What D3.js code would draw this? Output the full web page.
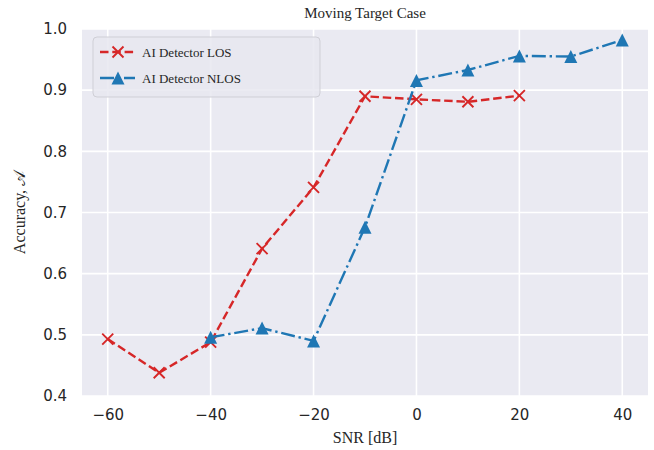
<!DOCTYPE html>
<html>
<head>
<meta charset="utf-8">
<script src="https://cdn.jsdelivr.net/npm/d3@7"></script>
<style>
  html, body { margin: 0; padding: 0; background: #ffffff; }
  svg { display: block; }
</style>
</head>
<body>
<div id="chart"></div>
<script>
// SNR sweep (dB) and detector accuracy for each propagation case
const snrLOS = [-60, -50, -40, -30, -20, -10, 0, 10, 20];
const accLOS = [0.493, 0.438, 0.488, 0.641, 0.741, 0.890, 0.885, 0.881, 0.891];
const snrNLOS = [-40, -30, -20, -10, 0, 10, 20, 30, 40];
const accNLOS = [0.496, 0.511, 0.490, 0.676, 0.916, 0.933, 0.956, 0.955, 0.982];
const xTicks = [-60, -40, -20, 0, 20, 40];
const yTicks = [0.4, 0.5, 0.6, 0.7, 0.8, 0.9, 1.0];
const seriesNames = ["AI Detector LOS", "AI Detector NLOS"];

const W = 654, H = 450;
const margin = { left: 82, right: 6, top: 29, bottom: 54 };
const pw = W - margin.left - margin.right;
const ph = H - margin.top - margin.bottom;

const svg = d3.select("#chart").append("svg")
  .attr("width", W).attr("height", H);

const x = d3.scaleLinear().domain([-65, 45]).range([margin.left, margin.left + pw]);
const y = d3.scaleLinear().domain([0.4, 1.0]).range([margin.top + ph, margin.top]);

const serif = "'Liberation Serif', 'DejaVu Serif', serif";
const sans = "'DejaVu Sans', sans-serif";
const textColor = "#262626";

// plot background
svg.append("rect")
  .attr("x", margin.left).attr("y", margin.top)
  .attr("width", pw).attr("height", ph)
  .attr("fill", "#eaeaf2");

// grid lines
const grid = svg.append("g");
grid.selectAll(".gx").data(xTicks).enter().append("line")
  .attr("x1", d => x(d)).attr("x2", d => x(d))
  .attr("y1", margin.top).attr("y2", margin.top + ph)
  .attr("stroke", "#ffffff").attr("stroke-width", 1.6);
grid.selectAll(".gy").data(yTicks).enter().append("line")
  .attr("x1", margin.left).attr("x2", margin.left + pw)
  .attr("y1", d => y(d)).attr("y2", d => y(d))
  .attr("stroke", "#ffffff").attr("stroke-width", 1.6);

// axes (labels only, no spines or tick marks)
const xAxis = svg.append("g")
  .attr("transform", `translate(0,${margin.top + ph})`)
  .call(d3.axisBottom(x).tickValues(xTicks).tickSize(0).tickPadding(13)
    .tickFormat(d => d < 0 ? "\u2212" + Math.abs(d) : String(d)));
xAxis.select(".domain").remove();
xAxis.selectAll("text").attr("font-family", sans).attr("font-size", 15)
  .attr("fill", textColor);

const yAxis = svg.append("g")
  .attr("transform", `translate(${margin.left},0)`)
  .call(d3.axisLeft(y).tickValues(yTicks).tickSize(0).tickPadding(15)
    .tickFormat(d3.format(".1f")));
yAxis.select(".domain").remove();
yAxis.selectAll("text").attr("font-family", sans).attr("font-size", 15)
  .attr("fill", textColor);

// title and axis labels
svg.append("text")
  .attr("x", margin.left + pw / 2).attr("y", 18)
  .attr("text-anchor", "middle")
  .attr("font-family", serif).attr("font-size", 15).attr("fill", textColor)
  .text("Moving Target Case");

svg.append("text")
  .attr("x", margin.left + pw / 2).attr("y", 443)
  .attr("text-anchor", "middle")
  .attr("font-family", serif).attr("font-size", 16).attr("fill", textColor)
  .text("SNR [dB]");

const yl = svg.append("text")
  .attr("transform", `translate(25,${margin.top + ph / 2}) rotate(-90)`)
  .attr("text-anchor", "middle")
  .attr("font-family", serif).attr("font-size", 16).attr("fill", textColor);
yl.append("tspan").text("Accuracy, ");
yl.append("tspan").attr("font-family", "'DejaVu Sans', 'DejaVu Serif', serif").text("\u{1D49C}");

const line = d3.line().x(d => x(d[0])).y(d => y(d[1]));
const losData = snrLOS.map((s, i) => [s, accLOS[i]]);
const nlosData = snrNLOS.map((s, i) => [s, accNLOS[i]]);

const red = "#d62728", blue = "#1f77b4";
const lw = 2.4;
const dashLOS = "8.5,3.8";
const dashNLOS = "14,3.8,2.4,3.8";

const crossPath = r => `M${-r},${-r}L${r},${r}M${-r},${r}L${r},${-r}`;
const triPath = r => `M0,${-r}L${r},${r}L${-r},${r}Z`;

// LOS series
svg.append("path").datum(losData)
  .attr("d", line).attr("fill", "none")
  .attr("stroke", red).attr("stroke-width", lw)
  .attr("stroke-dasharray", dashLOS);
svg.selectAll(".mLOS").data(losData).enter().append("path")
  .attr("transform", d => `translate(${x(d[0])},${y(d[1])})`)
  .attr("d", crossPath(5.5)).attr("fill", "none")
  .attr("stroke", red).attr("stroke-width", 1.9);

// NLOS series
svg.append("path").datum(nlosData)
  .attr("d", line).attr("fill", "none")
  .attr("stroke", blue).attr("stroke-width", lw)
  .attr("stroke-dasharray", dashNLOS);
svg.selectAll(".mNLOS").data(nlosData).enter().append("path")
  .attr("transform", d => `translate(${x(d[0])},${y(d[1])})`)
  .attr("d", triPath(6.5)).attr("fill", blue);

// legend
const lg = svg.append("g");
lg.append("rect")
  .attr("x", 93).attr("y", 37).attr("width", 227).attr("height", 60)
  .attr("rx", 4).attr("ry", 4)
  .attr("fill", "#e8e8f0").attr("fill-opacity", 0.85)
  .attr("stroke", "#cfcfd6").attr("stroke-width", 1);

const legendRows = [
  { name: seriesNames[0], color: red, dash: dashLOS, marker: crossPath(5.5), fill: "none", y: 52 },
  { name: seriesNames[1], color: blue, dash: dashNLOS, marker: triPath(6.5), fill: blue, y: 78 }
];
legendRows.forEach(r => {
  lg.append("line")
    .attr("x1", 100).attr("x2", 135).attr("y1", r.y).attr("y2", r.y)
    .attr("stroke", r.color).attr("stroke-width", lw)
    .attr("stroke-dasharray", r.dash);
  lg.append("path")
    .attr("transform", `translate(118,${r.y})`)
    .attr("d", r.marker).attr("fill", r.fill)
    .attr("stroke", r.fill === "none" ? r.color : "none").attr("stroke-width", 1.9);
  lg.append("text")
    .attr("x", 142).attr("y", r.y + 4.5)
    .attr("font-family", serif).attr("font-size", 13).attr("fill", textColor)
    .text(r.name);
});
</script>
</body>
</html>
